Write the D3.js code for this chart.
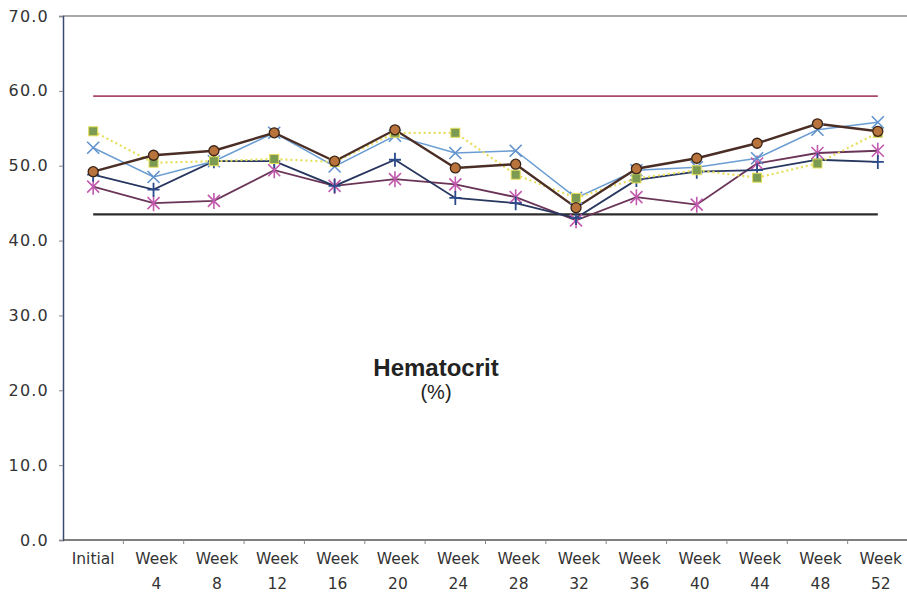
<!DOCTYPE html>
<html>
<head>
<meta charset="utf-8">
<script src="https://cdn.jsdelivr.net/npm/d3@7"></script>
<style>
  html, body { margin: 0; padding: 0; background: #fff; }
  svg { display: block; }
  text { font-family: "Liberation Sans", Arial, sans-serif; }
  .tickfont { font-family: "DejaVu Sans", Verdana, sans-serif; }
</style>
</head>
<body>
<svg id="chart" width="907" height="599"></svg>
<script>
// Visit labels (two-line category labels)
const categories = ["Initial", "Week 4", "Week 8", "Week 12", "Week 16", "Week 20", "Week 24",
  "Week 28", "Week 32", "Week 36", "Week 40", "Week 44", "Week 48", "Week 52"];

// Hematocrit (%) per subject
const subjectCircle = [49.2, 51.4, 52.0, 54.4, 50.6, 54.8, 49.7, 50.2, 44.4, 49.6, 51.0, 53.0, 55.6, 54.6];
const subjectSquare = [54.6, 50.4, 50.6, 50.9, 50.5, 54.4, 54.4, 48.8, 45.7, 48.3, 49.4, 48.4, 50.3, 54.4];
const subjectCross  = [52.4, 48.5, 50.6, 54.4, 49.9, 54.0, 51.7, 52.0, 45.7, 49.4, 49.8, 51.0, 54.8, 55.8];
const subjectPlus   = [48.8, 46.8, 50.6, 50.6, 47.3, 50.8, 45.7, 45.0, 43.0, 48.1, 49.2, 49.4, 50.8, 50.5];
const subjectStar   = [47.2, 45.0, 45.3, 49.4, 47.3, 48.2, 47.5, 45.8, 42.7, 45.8, 44.8, 50.3, 51.7, 52.0];

// Reference range limits
const upperLimit = 59.3;
const lowerLimit = 43.5;

const yTicks = [0, 10, 20, 30, 40, 50, 60, 70];

const svg = d3.select("#chart");
const plot = { left: 63, right: 908, top: 16, bottom: 540 };

const x = d3.scalePoint().domain(categories).range([plot.left, plot.right]).padding(0.5);
const y = d3.scaleLinear().domain([0, 70]).range([plot.bottom, plot.top]);

// Plot frame
const frame = svg.append("g").attr("stroke", "#555").attr("stroke-width", 1.2).attr("fill", "none");
frame.append("line").attr("x1", plot.left).attr("x2", plot.right).attr("y1", plot.top).attr("y2", plot.top);

// Y axis
const yAxis = svg.append("g")
  .attr("transform", `translate(${plot.left},0)`)
  .call(d3.axisLeft(y).tickValues(yTicks).tickFormat(d3.format(".1f")).tickSize(4).tickPadding(10));
yAxis.select(".domain").attr("stroke", "#3a4a70").attr("stroke-width", 1.5);
yAxis.selectAll(".tick line").attr("stroke", "#888");
yAxis.selectAll(".tick text").attr("class", "tickfont").attr("font-size", 16)
  .attr("letter-spacing", 1.2).attr("fill", "#333");

// X axis with ticks between categories
const step = x.step();
const xAxis = svg.append("g").attr("transform", `translate(0,${plot.bottom})`);
xAxis.append("line").attr("x1", plot.left).attr("x2", plot.right)
  .attr("stroke", "#555").attr("stroke-width", 1.5);
xAxis.selectAll("line.tk").data(categories).join("line").attr("class", "tk")
  .attr("x1", d => x(d) + step / 2).attr("x2", d => x(d) + step / 2)
  .attr("y1", 0).attr("y2", 4).attr("stroke", "#888");
const labels = xAxis.selectAll("text").data(categories).join("text")
  .attr("class", "tickfont")
  .attr("text-anchor", "middle").attr("font-size", 15.5).attr("fill", "#333");
labels.each(function (d) {
  const parts = d.split(" ");
  const t = d3.select(this);
  parts.forEach((p, i) => {
    t.append("tspan").attr("x", x(d) + (parts.length > 1 ? 3 : 0)).attr("y", 24 + i * 25).text(p);
  });
});

// Reference range lines
const flat = v => categories.map(() => v);
const line = d3.line().x((d, i) => x(categories[i])).y(d => y(d));
svg.append("path").attr("d", line(flat(upperLimit))).attr("fill", "none")
  .attr("stroke", "#a84a68").attr("stroke-width", 1.8);
svg.append("path").attr("d", line(flat(lowerLimit))).attr("fill", "none")
  .attr("stroke", "#2c2c2c").attr("stroke-width", 2.2);

// Series lines
const series = [
  { data: subjectStar,   line: "#6a3458", width: 1.8, marker: "star",   color: "#c25aae" },
  { data: subjectPlus,   line: "#26365e", width: 1.8, marker: "plus",   color: "#2a4a8a" },
  { data: subjectCross,  line: "#6b9dd2", width: 1.5, marker: "cross",  color: "#5f92cc" },
  { data: subjectSquare, line: "#e6de58", width: 2.2, marker: "square", color: "#7b9a52", dash: "2,3" },
  { data: subjectCircle, line: "#4a2e26", width: 2.4, marker: "circle", color: "#b8743c" }
];

series.forEach(s => {
  svg.append("path").attr("d", line(s.data)).attr("fill", "none")
    .attr("stroke", s.line).attr("stroke-width", s.width)
    .attr("stroke-dasharray", s.dash || null);
});

// Markers
series.forEach(s => {
  const g = svg.append("g");
  s.data.forEach((v, i) => {
    const cx = x(categories[i]), cy = y(v);
    const m = g.append("g").attr("transform", `translate(${cx},${cy})`);
    if (s.marker === "circle") {
      m.append("circle").attr("r", 5).attr("fill", s.color).attr("stroke", "#3a2418").attr("stroke-width", 1.3);
    } else if (s.marker === "square") {
      m.append("rect").attr("x", -4.5).attr("y", -4.5).attr("width", 9).attr("height", 9)
        .attr("fill", s.color).attr("stroke", "#e6de58").attr("stroke-width", 1);
    } else if (s.marker === "cross") {
      m.append("path").attr("d", "M-6,-6L6,6M-6,6L6,-6").attr("stroke", s.color).attr("stroke-width", 1.6);
    } else if (s.marker === "plus") {
      m.append("path").attr("d", "M-6,0L6,0M0,-7L0,7").attr("stroke", s.color).attr("stroke-width", 1.8);
    } else if (s.marker === "star") {
      m.append("path").attr("d", "M-6,-6L6,6M-6,6L6,-6M0,-8L0,8").attr("stroke", s.color).attr("stroke-width", 1.6);
    }
  });
});

// Title
svg.append("text").attr("x", 436).attr("y", 376).attr("text-anchor", "middle")
  .attr("font-size", 24).attr("font-weight", "bold").attr("fill", "#222").text("Hematocrit");
svg.append("text").attr("x", 436).attr("y", 399).attr("text-anchor", "middle")
  .attr("font-size", 20).attr("fill", "#222").text("(%)");
</script>
</body>
</html>
